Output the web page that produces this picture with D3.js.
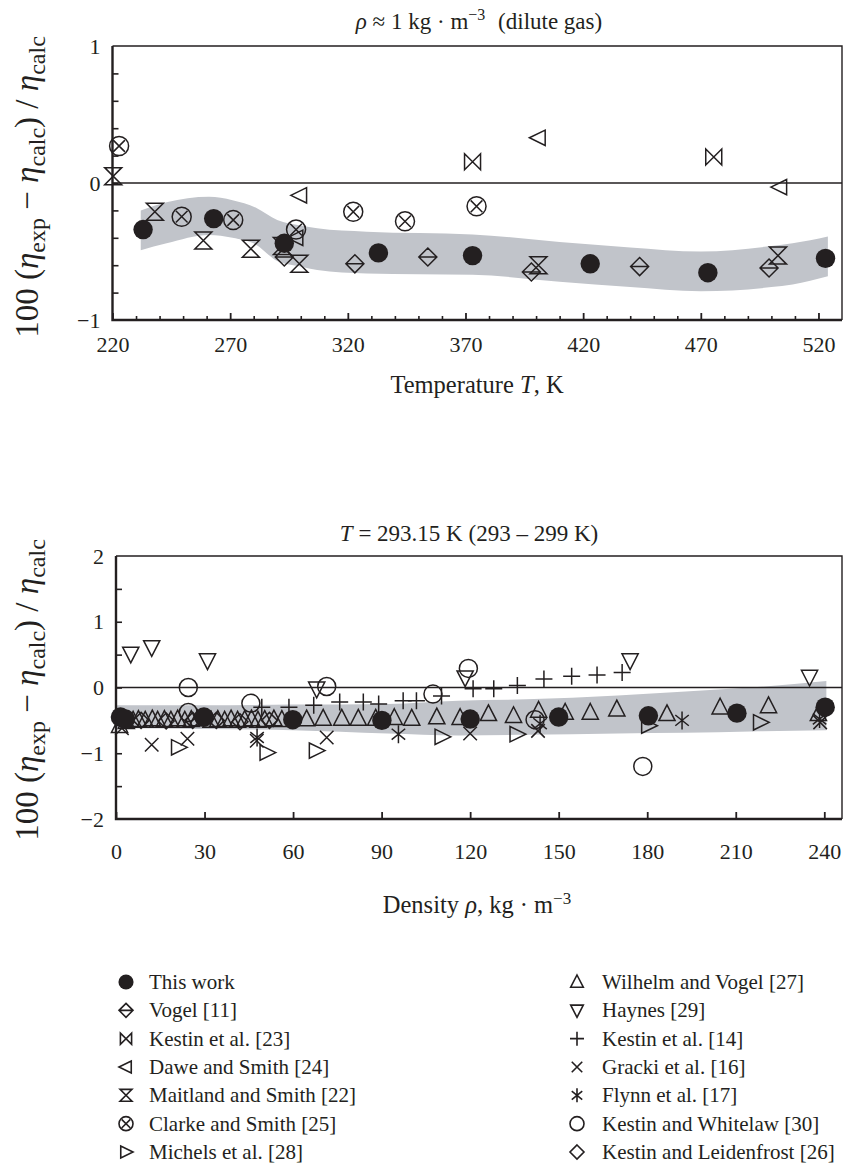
<!DOCTYPE html>
<html><head><meta charset="utf-8">
<script src="https://cdn.jsdelivr.net/npm/d3@7"></script>
<style>
body{margin:0;background:#fff}
svg{display:block}
text{font-family:"Liberation Serif","Times New Roman",serif;fill:#231f20}
</style>
</head><body>
<svg id="chart" width="844" height="1168"></svg>
<script>
// ---------- Top panel data (dilute gas, vs temperature) ----------
const topXTicks = [220, 270, 320, 370, 420, 470, 520];
const topYTicks = [-1, 0, 1];
const thisWorkT = [233, 263, 293, 333, 373, 423, 473, 523];
const thisWorkTDev = [-0.34, -0.26, -0.44, -0.51, -0.53, -0.59, -0.655, -0.55];
const vogelT = [293, 323, 354, 398, 444, 499];
const vogelTDev = [-0.54, -0.59, -0.54, -0.65, -0.61, -0.62];
const kestin23T = [373, 475.5];
const kestin23TDev = [0.155, 0.19];
const daweT = [299.6, 298, 401, 503.6];
const daweTDev = [-0.09, -0.40, 0.33, -0.03];
const maitlandT = [220.3, 238, 258.6, 278.8, 292, 299.4, 401, 502.8];
const maitlandTDev = [0.05, -0.21, -0.42, -0.48, -0.46, -0.59, -0.60, -0.53];
const clarkeT = [222.8, 249.4, 271.3, 298, 322.3, 344.3, 374.7];
const clarkeTDev = [0.27, -0.246, -0.27, -0.34, -0.21, -0.28, -0.17];
const bandT = [232, 243, 261, 271, 281, 290, 300, 307, 328, 373, 410, 440, 470, 500, 509, 524];
const bandTUpper = [-0.20, -0.14, -0.10, -0.125, -0.18, -0.27, -0.31, -0.33, -0.355, -0.375, -0.43, -0.47, -0.50, -0.46, -0.44, -0.39];
const bandTLower = [-0.49, -0.44, -0.38, -0.40, -0.45, -0.57, -0.61, -0.635, -0.66, -0.67, -0.72, -0.76, -0.79, -0.76, -0.74, -0.68];

// ---------- Bottom panel data (T = 293.15 K, vs density) ----------
const botXTicks = [0, 30, 60, 90, 120, 150, 180, 210, 240];
const botYTicks = [-2, -1, 0, 1, 2];
const thisWorkRho = [1.5, 3.2, 29.8, 59.9, 90.1, 120, 150, 180.4, 210.4, 240.3];
const thisWorkRhoDev = [-0.45, -0.48, -0.45, -0.49, -0.50, -0.48, -0.45, -0.43, -0.39, -0.30];
const wilhelmRho = [1.2, 3.5, 5.8, 7.6, 9.9, 12.3, 14.1, 16.4, 18.6, 20.9, 23.3, 25.5, 27.6, 32.2, 34.5, 36.8, 39.0, 41.2, 43.6, 45.9, 48.1, 50.4, 53.5, 56.2, 64.6, 70.2, 76.5, 82.1, 88.0, 94.3, 100.2, 108.7, 116.6, 126.2, 134.7, 143.2, 152.2, 160.7, 169.7, 186.7, 204.7, 221.1, 238.0];
const wilhelmDev = [-0.58, -0.52, -0.50, -0.49, -0.50, -0.48, -0.50, -0.49, -0.50, -0.48, -0.50, -0.49, -0.48, -0.50, -0.49, -0.50, -0.48, -0.50, -0.49, -0.48, -0.50, -0.49, -0.48, -0.49, -0.48, -0.47, -0.47, -0.47, -0.47, -0.46, -0.47, -0.45, -0.46, -0.40, -0.43, -0.35, -0.38, -0.38, -0.33, -0.40, -0.30, -0.28, -0.40];
const haynesRho = [5.0, 12.1, 31.0, 68.0, 118.3, 174.2, 235.0];
const haynesDev = [0.51, 0.61, 0.41, -0.02, 0.15, 0.41, 0.16];
const kestin14Rho = [49.4, 58.6, 67.0, 75.8, 83.8, 89.0, 97.3, 101.8, 110.3, 121.0, 128.0, 136.0, 145.0, 154.4, 163.0, 171.5];
const kestin14Dev = [-0.30, -0.30, -0.27, -0.22, -0.22, -0.25, -0.20, -0.20, -0.13, -0.02, -0.02, 0.03, 0.13, 0.17, 0.19, 0.23];
const grackiRho = [2.0, 12.1, 24.2, 47.7, 71.4, 120.0, 143.0, 238.6];
const grackiDev = [-0.62, -0.87, -0.78, -0.81, -0.76, -0.70, -0.66, -0.53];
const flynnRho = [47.8, 95.7, 143.7, 191.8, 238.4];
const flynnDev = [-0.76, -0.71, -0.55, -0.50, -0.48];
const michelsRho = [21.1, 51.1, 67.8, 110.4, 135.8, 180.4, 218.3];
const michelsDev = [-0.91, -0.99, -0.96, -0.75, -0.71, -0.58, -0.53];
const whitelawRho = [24.5, 24.5, 45.7, 71.4, 107.4, 119.4, 142.0, 178.5];
const whitelawDev = [0.0, -0.38, -0.24, 0.015, -0.10, 0.29, -0.49, -1.20];
const leidenfrostRho = [8.5, 17.0, 26.0, 34.0, 42.0, 52.0];
const leidenfrostDev = [-0.50, -0.51, -0.50, -0.50, -0.52, -0.50];
const bandRho = [0, 30, 60, 92, 116, 139, 170, 193, 215, 240.7];
const bandRhoUpper = [-0.27, -0.27, -0.26, -0.25, -0.20, -0.18, -0.12, -0.06, 0.00, 0.10];
const bandRhoLower = [-0.62, -0.63, -0.65, -0.70, -0.73, -0.72, -0.70, -0.69, -0.67, -0.65];

// ---------- Legend ----------
const legendLeft = ["This work", "Vogel [11]", "Kestin et al. [23]", "Dawe and Smith [24]", "Maitland and Smith [22]", "Clarke and Smith [25]", "Michels et al. [28]"];
const legendLeftSym = ["filled", "vogel", "bowtie", "triLeft", "hourglass", "clarke", "triRight"];
const legendRight = ["Wilhelm and Vogel [27]", "Haynes [29]", "Kestin et al. [14]", "Gracki et al. [16]", "Flynn et al. [17]", "Kestin and Whitelaw [30]", "Kestin and Leidenfrost [26]"];
const legendRightSym = ["triUp", "triDown", "plus", "cross", "asterisk", "circle", "diamond"];

const svg = d3.select("#chart");
const INK = "#231f20";
const BAND = "#c1c4ca";

function symbol(g, type, x, y, s, sw) {
  const h = s / 2;
  const p = g.append("g").attr("transform", `translate(${x},${y})`)
    .attr("fill", "none").attr("stroke", INK).attr("stroke-width", sw || 1.5);
  switch (type) {
    case "filled":
      p.append("circle").attr("r", h * 1.08).attr("fill", INK).attr("stroke", "none"); break;
    case "circle":
      p.append("circle").attr("r", h); break;
    case "clarke":
      p.append("circle").attr("r", h);
      p.append("path").attr("d", `M${-h*0.62},${-h*0.62}L${h*0.62},${h*0.62}M${h*0.62},${-h*0.62}L${-h*0.62},${h*0.62}`); break;
    case "vogel":
      p.append("path").attr("d", `M0,${-h}L${h},0L0,${h}L${-h},0ZM${-h},0L${h},0`); break;
    case "diamond":
      p.append("path").attr("d", `M0,${-h}L${h},0L0,${h}L${-h},0Z`); break;
    case "bowtie":
      p.append("path").attr("d", `M${-h*0.8},${-h*0.8}L${h*0.8},${h*0.8}L${h*0.8},${-h*0.8}L${-h*0.8},${h*0.8}Z`); break;
    case "hourglass":
      p.append("path").attr("d", `M${-h*0.85},${-h*0.85}L${h*0.85},${-h*0.85}L${-h*0.85},${h*0.85}L${h*0.85},${h*0.85}Z`); break;
    case "triLeft":
      p.append("path").attr("d", `M${-h},0L${h*0.75},${-h*0.85}L${h*0.75},${h*0.85}Z`); break;
    case "triRight":
      p.append("path").attr("d", `M${h},0L${-h*0.75},${-h*0.85}L${-h*0.75},${h*0.85}Z`); break;
    case "triUp":
      p.append("path").attr("d", `M0,${-h}L${h*0.9},${h*0.75}L${-h*0.9},${h*0.75}Z`); break;
    case "triDown":
      p.append("path").attr("d", `M0,${h}L${h*0.9},${-h*0.75}L${-h*0.9},${-h*0.75}Z`); break;
    case "plus":
      p.append("path").attr("d", `M${-h},0L${h},0M0,${-h}L0,${h}`); break;
    case "cross":
      p.append("path").attr("d", `M${-h*0.75},${-h*0.75}L${h*0.75},${h*0.75}M${h*0.75},${-h*0.75}L${-h*0.75},${h*0.75}`); break;
    case "asterisk":
      p.append("path").attr("d", `M${-h*0.75},${-h*0.6}L${h*0.75},${h*0.6}M${h*0.75},${-h*0.6}L${-h*0.75},${h*0.6}M0,${-h}L0,${h}`); break;
  }
}

function yLabel(cx, cy) {
  const t = svg.append("text").attr("transform", `translate(${cx},${cy}) rotate(-90)`)
    .attr("text-anchor", "middle").attr("font-size", 33);
  const SUB = 24, DY = 7;
  t.append("tspan").text("100 (");
  t.append("tspan").attr("font-style", "italic").text("η");
  t.append("tspan").attr("font-size", SUB).attr("dy", DY).text("exp");
  t.append("tspan").attr("dy", -DY).text(" − ");
  t.append("tspan").attr("font-style", "italic").text("η");
  t.append("tspan").attr("font-size", SUB).attr("dy", DY).text("calc");
  t.append("tspan").attr("dy", -DY).text(") / ");
  t.append("tspan").attr("font-style", "italic").text("η");
  t.append("tspan").attr("font-size", SUB).attr("dy", DY).text("calc");
}

function panel(opt) {
  const { x, y, L, R, T, B } = opt;
  const g = svg.append("g");
  const area = d3.area().curve(d3.curveMonotoneX)
    .x((d, i) => x(opt.band[0][i])).y0((d, i) => y(opt.band[2][i])).y1((d, i) => y(opt.band[1][i]));
  g.append("path").datum(opt.band[0]).attr("d", area).attr("fill", BAND);
  g.append("line").attr("x1", L).attr("x2", R).attr("y1", y(0)).attr("y2", y(0))
    .attr("stroke", INK).attr("stroke-width", 1.4);
  g.append("path").attr("d", `M${L},${T}H${R}V${B}`).attr("fill", "none").attr("stroke", INK).attr("stroke-width", 1.4);
  if (opt.xMinor.length) {
    const xAx = d3.axisBottom(x).tickValues(opt.xMinor).tickSize(-4).tickFormat("");
    g.append("g").attr("transform", `translate(0,${B})`).call(xAx)
      .call(s => s.select(".domain").remove()).selectAll("line").attr("stroke", INK).attr("stroke-width", 1.6);
  }
  const xMaj = d3.axisBottom(x).tickValues(opt.xTicks).tickSize(-7).tickPadding(opt.xPad).tickFormat(d3.format("d"));
  const gx = g.append("g").attr("transform", `translate(0,${B})`).call(xMaj);
  gx.select(".domain").remove();
  gx.selectAll("line").attr("stroke", INK).attr("stroke-width", 1.8);
  gx.selectAll("text").attr("font-size", 22).attr("font-family", "Liberation Serif").attr("fill", INK);
  const yAx = d3.axisLeft(y).tickValues(opt.yMinor).tickSize(-6).tickFormat("");
  g.append("g").attr("transform", `translate(${L},0)`).call(yAx)
    .call(s => s.select(".domain").remove()).selectAll("line").attr("stroke", INK).attr("stroke-width", 1.6);
  const yMaj = d3.axisLeft(y).tickValues(opt.yTicks).tickSize(0).tickPadding(12)
    .tickFormat(d => d < 0 ? "−" + Math.abs(d) : String(d));
  const gy = g.append("g").attr("transform", `translate(${L},0)`).call(yMaj);
  gy.select(".domain").remove();
  gy.selectAll("text").attr("font-size", 22).attr("font-family", "Liberation Serif").attr("fill", INK);
  g.append("path").attr("d", `M${L},${T}V${B}H${R}`).attr("fill", "none").attr("stroke", INK).attr("stroke-width", 2.4);
  opt.series.forEach(s => {
    s.xs.forEach((v, i) => symbol(g, s.sym, x(v), y(s.ys[i]), s.size));
  });
}

// ---------- Top panel ----------
const tL = 112.5, tR = 842, tT = 46, tB = 320;
const xT = d3.scaleLinear().domain([220, 530]).range([tL, tR]);
const yT = d3.scaleLinear().domain([-1, 1]).range([tB, tT]);
panel({
  x: xT, y: yT, L: tL, R: tR, T: tT, B: tB, xPad: 16,
  xTicks: topXTicks, xMinor: d3.range(230, 530, 10).filter(v => v % 50 !== 20),
  yTicks: topYTicks, yMinor: [-0.8, -0.6, -0.4, -0.2, 0, 0.2, 0.4, 0.6, 0.8],
  band: [bandT, bandTUpper, bandTLower],
  series: [
    { sym: "vogel", xs: vogelT, ys: vogelTDev, size: 18 },
    { sym: "bowtie", xs: kestin23T, ys: kestin23TDev, size: 20 },
    { sym: "triLeft", xs: daweT, ys: daweTDev, size: 18 },
    { sym: "hourglass", xs: maitlandT, ys: maitlandTDev, size: 20 },
    { sym: "clarke", xs: clarkeT, ys: clarkeTDev, size: 19 },
    { sym: "filled", xs: thisWorkT, ys: thisWorkTDev, size: 18 }
  ]
});
svg.append("text").attr("x", 479).attr("y", 29).attr("text-anchor", "middle").attr("font-size", 23)
  .call(t => {
    t.append("tspan").attr("font-style", "italic").text("ρ");
    t.append("tspan").text(" ≈ 1 kg · m");
    t.append("tspan").attr("font-size", 16).attr("dy", -9).text("−3");
    t.append("tspan").attr("dy", 9).attr("dx", 7).text(" (dilute gas)");
  });
svg.append("text").attr("x", 477).attr("y", 393).attr("text-anchor", "middle").attr("font-size", 24.5)
  .call(t => {
    t.append("tspan").text("Temperature ");
    t.append("tspan").attr("font-style", "italic").text("T");
    t.append("tspan").text(", K");
  });
yLabel(38, 187);

// ---------- Bottom panel ----------
const bL = 116, bR = 842, bT = 556, bB = 819;
const xB = d3.scaleLinear().domain([0, 246]).range([bL, bR]);
const yB = d3.scaleLinear().domain([-2, 2]).range([bB, bT]);
panel({
  x: xB, y: yB, L: bL, R: bR, T: bT, B: bB, xPad: 24,
  xTicks: botXTicks, xMinor: [],
  yTicks: botYTicks, yMinor: [-1.5, -1, -0.5, 0, 0.5, 1, 1.5],
  band: [bandRho, bandRhoUpper, bandRhoLower],
  series: [
    { sym: "triUp", xs: wilhelmRho, ys: wilhelmDev, size: 18 },
    { sym: "diamond", xs: leidenfrostRho, ys: leidenfrostDev, size: 16 },
    { sym: "triDown", xs: haynesRho, ys: haynesDev, size: 18 },
    { sym: "plus", xs: kestin14Rho, ys: kestin14Dev, size: 17 },
    { sym: "cross", xs: grackiRho, ys: grackiDev, size: 18 },
    { sym: "asterisk", xs: flynnRho, ys: flynnDev, size: 18 },
    { sym: "triRight", xs: michelsRho, ys: michelsDev, size: 18 },
    { sym: "circle", xs: whitelawRho, ys: whitelawDev, size: 18 },
    { sym: "filled", xs: thisWorkRho, ys: thisWorkRhoDev, size: 18 }
  ]
});
svg.append("text").attr("x", 469).attr("y", 541).attr("text-anchor", "middle").attr("font-size", 23)
  .call(t => {
    t.append("tspan").attr("font-style", "italic").text("T");
    t.append("tspan").text(" = 293.15 K (293 – 299 K)");
  });
svg.append("text").attr("x", 477).attr("y", 913).attr("text-anchor", "middle").attr("font-size", 24.5)
  .call(t => {
    t.append("tspan").text("Density ");
    t.append("tspan").attr("font-style", "italic").text("ρ");
    t.append("tspan").text(", kg · m");
    t.append("tspan").attr("font-size", 17).attr("dy", -9).text("−3");
  });
yLabel(38, 690);

// ---------- Legend ----------
const rowY = d3.scaleLinear().domain([0, 6]).range([982, 1152]);
legendLeft.forEach((name, i) => {
  symbol(svg, legendLeftSym[i], 126, rowY(i), 14, 1.6);
  svg.append("text").attr("x", 149).attr("y", rowY(i) + 7).attr("font-size", 21).text(name);
});
legendRight.forEach((name, i) => {
  symbol(svg, legendRightSym[i], 577, rowY(i), 14, 1.6);
  svg.append("text").attr("x", 602).attr("y", rowY(i) + 7).attr("font-size", 21).text(name);
});
</script>
</body></html>
